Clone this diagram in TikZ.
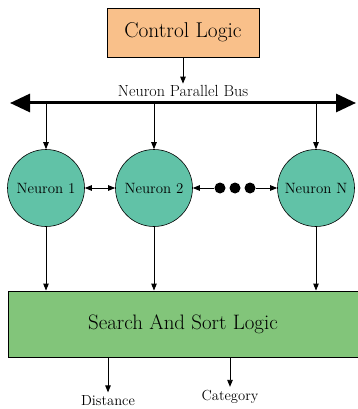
\documentclass[tikz,border=0pt]{standalone}
\usepackage{tikz}
\usetikzlibrary{arrows.meta,positioning,calc}

\begin{document}
\begin{tikzpicture}[x=1pt, y=-1pt, >={Triangle[length=7pt,width=5.5pt]},
  bigbox/.style={draw, line width=0.9pt, minimum height=49pt, font=\fontsize{21.4}{24}\selectfont},
  neuron/.style={draw, circle, fill=neurongreen, line width=0.6pt, minimum size=77pt, inner sep=0pt, font=\fontsize{14.9}{17}\selectfont},
  dot/.style={circle, fill=black, minimum size=11pt, inner sep=0pt},
  outlabel/.style={font=\fontsize{14.6}{17}\selectfont},
  link/.style={line width=0.9pt}]
\definecolor{neurongreen}{RGB}{97,194,167}
\definecolor{ctrlorange}{RGB}{249,192,138}
\definecolor{sslgreen}{RGB}{130,197,122}
\useasboundingbox (0,0) rectangle (357,409);

% control and bus
\node[bigbox, fill=ctrlorange, minimum width=152pt] (ctrl) at (183,32.5) {Control Logic};
\node[font=\fontsize{16.1}{18}\selectfont, inner sep=1pt] (bus) at (183,90.5) {Neuron Parallel Bus};
\coordinate (busL) at (10,103);
\coordinate (busR) at (356,103);
\draw[{Triangle[length=20pt,width=18pt]}-{Triangle[length=20pt,width=18pt]}, line width=3pt] (busL) -- (busR);
\draw[link,->] (ctrl.south) -- (bus.north);

% neurons
\node[neuron] (n1) at (46,188) {Neuron 1};
\node[neuron] (n2) at (154,188) {Neuron 2};
\node[neuron] (nN) at (316,188) {Neuron N};
\node[dot] (d1) at (220,188) {};
\node[dot] (d2) at (235,188) {};
\node[dot] (d3) at (250,188) {};
\draw[link,<->] (n1) -- (n2);
\draw[link,->] (d1) -- (n2);
\draw[link,->] (d3) -- (nN);
\foreach \n in {n1,n2,nN}
  \draw[link,->] (busL -| \n) -- (\n);

% search and sort
\node[bigbox, fill=sslgreen, minimum width=350pt, minimum height=66pt, font=\fontsize{20.9}{24}\selectfont] (ssl) at (183,324) {Search And Sort Logic};
\foreach \n in {n1,n2,nN}
  \draw[link,->] (\n) -- (\n |- ssl.north);

% outputs
\node[outlabel] (dist) at (108,401) {Distance};
\node[outlabel] (cat) at (230,397) {Category};
\draw[link,->] (ssl.south -| dist) -- (dist.north);
\draw[link,->] (ssl.south -| cat) -- (cat.north);
\end{tikzpicture}
\end{document}
